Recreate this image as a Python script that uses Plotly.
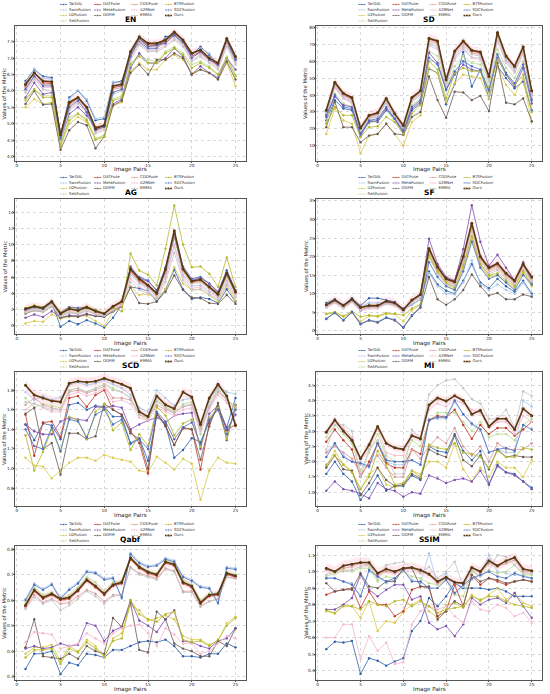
import plotly.graph_objects as go
from plotly.subplots import make_subplots

pairs = list(range(1, 26))
methods = ['TarDAL', 'SwinFusion', 'U2Fusion', 'SeAFusion', 'DATFuse', 'MetaFusion', 'DDFM',
           'CDDFuse', 'A2RNet', 'EMMA', 'BTSFusion', 'SDCFusion', 'Ours']

colors = {
    'TarDAL': '#2f5fa8', 'SwinFusion': '#a9c6e8', 'U2Fusion': '#d8c94a', 'SeAFusion': '#b7dc8f',
    'DATFuse': '#c0392b', 'MetaFusion': '#7c4fb0', 'DDFM': '#6b5a50', 'CDDFuse': '#d99a9a',
    'A2RNet': '#f4b8cf', 'EMMA': '#c4c4c4', 'BTSFusion': '#b5b82a', 'SDCFusion': '#4b6fbd',
    'Ours': '#5a3a12',
}

EN = {
    'TarDAL': [6.30,6.65,6.45,6.40,4.60,5.80,6.00,5.70,5.10,5.15,6.25,6.30,7.10,7.50,7.30,7.30,7.65,7.70,7.45,7.10,7.35,7.10,6.80,7.45,6.95],
    'SwinFusion': [6.25,6.68,6.40,6.35,4.55,5.75,6.02,5.75,5.15,5.20,6.28,6.25,7.05,7.45,7.25,7.25,7.60,7.65,7.40,7.05,7.30,7.15,6.75,7.40,6.90],
    'U2Fusion': [5.50,5.75,5.60,5.65,4.30,5.00,5.20,5.05,4.55,4.60,5.55,5.65,6.60,6.85,6.65,6.65,6.95,7.10,6.95,6.55,6.65,6.55,6.35,6.85,6.15],
    'SeAFusion': [5.70,6.05,5.85,5.85,4.40,5.20,5.30,5.15,4.55,4.65,5.75,5.85,6.85,7.10,6.95,6.90,7.20,7.35,7.15,6.80,6.90,6.75,6.50,7.05,6.50],
    'DATFuse': [6.15,6.55,6.25,6.22,4.70,5.60,5.78,5.45,4.90,4.95,6.10,6.15,7.15,7.60,7.40,7.40,7.50,7.75,7.55,7.05,7.20,6.95,6.80,7.55,7.00],
    'MetaFusion': [5.80,6.25,5.90,5.95,4.50,5.30,5.50,5.25,4.85,4.95,5.60,5.75,6.70,7.15,6.85,6.85,7.00,7.30,7.05,6.50,6.75,6.55,6.40,7.00,6.65],
    'DDFM': [5.60,6.00,5.58,5.60,4.20,4.80,5.05,4.95,4.25,4.60,5.55,5.70,6.55,6.80,6.50,6.95,6.95,7.15,7.00,6.50,6.65,6.55,6.35,6.90,6.35],
    'CDDFuse': [6.10,6.45,6.20,6.20,4.60,5.55,5.75,5.45,4.80,4.90,6.05,6.10,7.10,7.55,7.35,7.35,7.45,7.70,7.45,7.05,7.15,6.95,6.75,7.50,6.95],
    'A2RNet': [6.00,6.40,6.10,6.10,4.55,5.45,5.65,5.40,4.75,4.85,5.95,6.05,7.00,7.45,7.25,7.25,7.40,7.60,7.40,6.95,7.10,6.90,6.70,7.40,6.85],
    'EMMA': [5.95,6.35,6.05,6.00,4.50,5.40,5.60,5.35,4.70,4.80,5.90,6.00,6.95,7.40,7.20,7.20,7.35,7.55,7.35,6.90,7.05,6.85,6.65,7.35,6.80],
    'BTSFusion': [5.75,6.05,5.80,5.80,4.35,5.10,5.30,5.10,4.50,4.60,5.70,5.80,6.80,7.05,6.85,6.85,7.15,7.30,7.10,6.70,6.85,6.70,6.50,7.00,6.45],
    'SDCFusion': [6.05,6.45,6.15,6.15,4.55,5.50,5.70,5.35,4.80,4.90,5.95,6.05,7.05,7.60,7.35,7.40,7.45,7.70,7.50,7.00,7.20,6.95,6.80,7.55,6.95],
    'Ours': [6.20,6.55,6.30,6.28,4.65,5.65,5.80,5.50,4.85,4.95,6.15,6.20,7.20,7.65,7.45,7.45,7.55,7.80,7.55,7.15,7.25,7.00,6.85,7.60,7.05],
}

SD = {
    'TarDAL': [25,37,32,31,15.5,25,24,31,26,17,31,35,55.5,53,34.5,46.5,65.5,45,55,38,57,50,44,48,31],
    'SwinFusion': [28,45,38,36,18,26,28,35,27,20,36,40,70,68,45,62,68,62,62,48,72,60,54,65,38],
    'U2Fusion': [17,32,25,23,5.5,16,17,23,17,10,24,28,56,53,36,47,52,51,50,38,57,46,40,50,24],
    'SeAFusion': [24,41,35,33,17,23,25,32,24,18,34,38,66,63,43,57,63,59,58,45,67,56,50,60,36],
    'DATFuse': [31,47,40,38,20,27.5,29,37.5,28.5,21.5,38,42,73,71.5,48.5,65.5,71.5,66,65,50.5,76.5,62.5,56.5,68,42],
    'MetaFusion': [27,39,34,33,17,24,25,32,26,18,32,36,65,59,43,52,58,55,54,42,62,52,45,56,35],
    'DDFM': [21,36,21,21,12,16,17,23,17,16.5,27,30,51,37,26.5,42,41.5,37,39.5,30.5,59,35.5,34.5,38,24.5],
    'CDDFuse': [30,46,40,37,19.5,27,28.5,37,28,21,37.5,41.5,72,70.5,47.5,64.5,70.5,65,64,50,75.5,62,56,67.5,41],
    'A2RNet': [29,44,38,35,19,26,27,36,27,20,36,40,69,67,46,61,67,62,61,48,72,59,53,64,39],
    'EMMA': [29,45,39,36,19,26.5,28,36,27.5,20.5,37,41,71,69,47,63,69,64,63,49,74,61,55,66,40],
    'BTSFusion': [23,33,28,28,15,21,21.5,27,24,17,29,34,60,55,38,53,56,54,54,42,61,53,46,52,30],
    'SDCFusion': [28,40,33,32,17,25,26,33,26,19,33,37,62,58,43,54,60,57,55,43,64,53,47,58,37],
    'Ours': [31,47.5,41,38.5,20.5,28,29.5,38,29,22,38.5,42.5,73.5,72,49,66,72,66.5,65.5,51,77,63,57,68.5,42.5],
}

AG = {
    'TarDAL': [1.9,2.3,2.0,2.9,-0.1,0.6,0.2,0.7,0.3,-0.2,1.0,2.6,4.8,4.6,4.3,3.0,4.5,6.9,4.5,3.3,3.5,3.3,2.8,4.5,3.0],
    'SwinFusion': [1.8,2.2,2.0,2.7,1.2,1.7,1.5,2.0,1.4,1.2,2.0,2.6,6.3,5.2,4.5,3.7,6.0,10.0,6.3,4.9,5.0,4.2,3.5,5.6,3.8],
    'U2Fusion': [0.3,0.6,0.5,1.4,0.9,1.1,1.3,1.2,0.6,0.0,1.8,2.3,4.9,3.8,3.9,3.3,4.5,7.2,5.2,4.4,4.5,3.8,3.0,4.9,3.1],
    'SeAFusion': [1.7,2.1,1.9,2.6,1.3,1.8,1.6,2.0,1.5,1.3,2.0,2.5,6.5,5.5,4.8,3.9,6.6,10.8,6.7,5.2,5.4,4.6,3.7,6.0,4.0],
    'DATFuse': [2.0,2.4,2.1,2.9,1.5,2.1,1.9,2.3,1.8,1.5,2.3,2.9,6.8,5.6,4.9,3.9,6.8,11.4,6.9,5.4,5.6,4.7,3.8,6.3,4.1],
    'MetaFusion': [1.0,1.4,1.1,1.8,1.0,1.3,1.2,1.5,1.2,1.1,1.8,2.4,7.3,5.8,5.5,4.4,6.5,11.0,7.1,5.6,5.9,5.2,4.2,6.8,4.3],
    'DDFM': [1.5,1.9,1.7,2.4,1.0,1.2,1.1,1.4,1.2,1.1,1.8,2.5,4.7,2.8,2.7,3.0,4.2,6.2,4.4,3.5,3.4,2.8,2.7,3.8,2.7],
    'CDDFuse': [1.9,2.3,2.1,2.8,1.4,2.0,1.8,2.2,1.7,1.4,2.2,2.8,6.6,5.4,4.7,3.8,6.6,11.1,6.8,5.3,5.5,4.6,3.7,6.2,4.0],
    'A2RNet': [1.7,2.0,1.8,2.5,1.2,1.7,1.5,1.9,1.5,1.3,2.0,2.6,5.8,4.8,4.2,3.5,5.8,9.8,6.0,4.6,4.8,4.0,3.3,5.4,3.6],
    'EMMA': [1.6,1.9,1.7,2.4,1.2,1.6,1.4,1.8,1.4,1.2,1.9,2.5,5.4,4.4,4.0,3.3,5.4,9.0,5.6,4.4,4.5,3.8,3.2,5.1,3.5],
    'BTSFusion': [2.2,2.5,2.3,3.0,1.7,2.3,2.1,2.4,2.0,1.6,2.2,1.8,8.9,6.8,6.3,5.0,9.5,14.8,10.0,7.2,7.3,6.4,4.8,8.4,4.8],
    'SDCFusion': [2.0,2.3,2.1,2.9,1.6,2.3,2.2,2.3,1.9,1.5,2.4,3.0,7.1,6.0,5.6,4.3,7.2,11.5,7.3,5.8,6.0,5.2,4.1,6.8,4.4],
    'Ours': [2.1,2.4,2.2,3.0,1.5,2.1,1.9,2.3,1.8,1.5,2.4,3.0,7.0,5.8,5.0,4.0,7.0,11.7,7.0,5.5,5.7,4.8,3.9,6.5,4.2],
}

SF = {
    'TarDAL': [7.5,8.5,7.0,8.8,6.8,8.8,8.8,8.2,7.8,6.0,7.0,8.5,16.0,12.5,10.8,10.0,13.5,18.0,13.0,11.5,14.0,12.0,10.5,13.5,10.0],
    'SwinFusion': [7.2,8.3,6.8,8.5,6.5,7.5,7.5,8.0,7.5,5.8,7.0,8.5,15.5,12.0,10.0,9.8,13.0,19.0,12.5,11.0,12.5,11.0,10.0,13.0,9.5],
    'U2Fusion': [4.5,4.8,3.8,5.0,2.5,4.0,3.8,4.5,4.5,2.5,5.5,7.0,20.0,15.5,12.5,11.0,17.0,24.5,17.5,14.5,15.0,13.0,11.5,15.5,12.0],
    'SeAFusion': [6.8,8.0,6.6,8.2,6.2,6.6,6.6,7.8,7.3,5.6,8.0,9.5,21.0,16.5,13.2,12.5,19.0,27.0,19.0,16.0,17.0,14.7,12.8,17.0,13.8],
    'DATFuse': [6.9,8.2,6.7,8.4,6.2,6.7,6.7,7.9,7.4,5.6,8.2,9.7,21.8,17.0,13.8,13.0,19.6,28.5,19.6,16.7,17.8,15.2,13.2,17.7,14.3],
    'MetaFusion': [6.5,7.8,6.2,8.0,5.5,6.5,6.5,7.5,7.0,5.3,7.8,9.5,24.8,18.0,14.5,13.5,22.0,33.8,24.0,17.5,20.5,17.0,13.5,18.5,13.0],
    'DDFM': [3.2,5.0,2.8,5.0,1.8,2.8,2.2,3.5,2.8,0.8,4.0,6.2,14.5,8.5,7.0,8.5,11.0,15.2,12.0,9.5,10.2,8.5,8.5,9.8,9.2],
    'CDDFuse': [6.8,8.1,6.6,8.3,6.1,6.6,6.6,7.8,7.3,5.5,8.1,9.6,21.5,16.7,13.5,12.8,19.3,28.0,19.3,16.5,17.5,15.0,13.0,17.5,14.0],
    'A2RNet': [6.5,7.8,6.3,8.0,5.8,6.3,6.3,7.5,7.0,5.3,7.8,9.3,20.5,16.0,13.0,12.3,18.5,26.5,18.5,15.8,16.8,14.4,12.6,16.8,13.5],
    'EMMA': [6.3,7.6,6.1,7.8,5.6,6.1,6.1,7.3,6.8,5.1,7.6,9.1,19.8,15.5,12.6,12.0,18.0,25.5,18.0,15.3,16.3,14.0,12.3,16.3,13.2],
    'BTSFusion': [4.6,5.0,4.0,5.2,3.8,4.2,4.0,4.8,4.6,4.2,6.0,7.2,20.5,16.0,13.0,11.5,17.5,25.5,18.0,15.0,15.5,13.5,12.0,16.0,12.5],
    'SDCFusion': [3.3,4.8,2.9,5.1,1.9,2.9,2.4,3.6,3.0,1.0,4.2,6.5,18.5,14.5,12.0,11.0,16.0,24.0,17.0,14.0,15.0,13.0,11.0,15.0,12.5],
    'Ours': [7.0,8.3,6.8,8.5,6.3,6.8,6.8,8.0,7.5,5.7,8.3,9.8,22.2,17.2,14.0,13.2,20.0,29.0,20.0,17.0,18.2,15.5,13.5,18.0,14.5],
}

SCD = {
    'TarDAL': [1.45,1.29,1.46,1.44,1.30,1.65,1.67,1.60,1.64,1.63,1.53,1.53,1.26,1.31,1.08,1.55,1.45,1.11,1.19,1.31,1.27,1.48,1.63,1.42,1.72],
    'SwinFusion': [1.78,1.70,1.74,1.70,1.73,1.85,1.88,1.85,1.87,1.90,1.86,1.82,1.75,1.62,1.58,1.80,1.72,1.64,1.70,1.72,1.40,1.68,1.84,1.78,1.76],
    'U2Fusion': [1.11,1.03,1.02,0.90,0.98,1.06,1.11,1.11,1.08,1.14,1.11,1.09,1.07,0.98,0.96,1.12,1.06,0.99,1.10,1.05,0.68,0.98,1.11,1.06,1.05],
    'SeAFusion': [1.72,1.62,1.66,1.64,1.62,1.80,1.82,1.78,1.82,1.86,1.82,1.78,1.72,1.55,1.50,1.70,1.63,1.58,1.66,1.68,1.35,1.64,1.80,1.70,1.64],
    'DATFuse': [1.55,1.13,1.47,1.48,1.32,1.72,1.74,1.63,1.75,1.80,1.60,1.55,1.38,1.26,0.95,1.57,1.44,1.24,1.41,1.40,0.99,1.46,1.63,1.39,1.45],
    'MetaFusion': [1.45,1.38,1.35,1.35,1.48,1.52,1.50,1.49,1.63,1.62,1.64,1.62,1.40,1.45,1.49,1.52,1.47,1.54,1.56,1.57,1.20,1.56,1.64,1.40,1.55],
    'DDFM': [1.56,1.62,1.20,1.26,0.94,1.36,1.36,1.30,1.33,1.66,1.60,1.55,1.36,1.30,1.00,1.56,1.43,1.24,1.42,1.40,1.09,1.43,1.67,1.29,1.65],
    'CDDFuse': [1.65,1.72,1.65,1.62,1.60,1.78,1.80,1.77,1.80,1.84,1.72,1.72,1.70,1.55,1.52,1.65,1.60,1.57,1.63,1.65,1.42,1.62,1.78,1.70,1.62],
    'A2RNet': [1.60,1.67,1.62,1.58,1.58,1.75,1.78,1.74,1.77,1.82,1.68,1.70,1.66,1.52,1.49,1.62,1.58,1.54,1.60,1.62,1.38,1.60,1.75,1.67,1.60],
    'EMMA': [1.68,1.66,1.63,1.60,1.60,1.80,1.82,1.78,1.82,1.86,1.80,1.78,1.72,1.55,1.52,1.68,1.62,1.56,1.64,1.66,1.40,1.64,1.82,1.70,1.62],
    'BTSFusion': [1.34,0.98,1.17,1.40,1.17,1.53,1.49,1.30,1.58,1.66,1.39,1.47,1.19,1.35,1.23,1.63,1.54,1.34,1.46,1.50,1.22,1.52,1.62,1.30,1.64],
    'SDCFusion': [1.40,1.23,1.20,1.42,1.18,1.50,1.48,1.32,1.55,1.60,1.45,1.50,1.25,1.30,1.20,1.58,1.48,1.30,1.42,1.47,1.25,1.50,1.60,1.35,1.60],
    'Ours': [1.85,1.75,1.72,1.69,1.68,1.87,1.89,1.88,1.89,1.92,1.89,1.86,1.82,1.58,1.53,1.74,1.65,1.61,1.78,1.73,1.45,1.72,1.86,1.74,1.44],
}

MI = {
    'TarDAL': [1.6,2.0,1.6,1.35,0.75,1.1,1.55,1.05,1.2,1.2,1.55,1.4,2.5,2.35,2.3,2.9,2.35,2.05,2.35,1.25,1.9,1.65,1.6,1.35,1.15],
    'SwinFusion': [2.3,2.6,2.2,2.0,1.9,1.8,2.6,2.0,1.9,1.9,2.05,1.9,3.4,3.4,3.4,3.95,3.55,3.2,3.05,2.3,2.4,2.3,2.3,4.0,3.8],
    'U2Fusion': [1.85,2.35,1.9,1.7,1.1,1.6,1.8,1.25,1.15,1.25,1.7,1.6,2.0,2.0,1.8,2.6,1.75,1.35,1.8,1.5,2.0,1.8,1.8,1.5,2.05],
    'SeAFusion': [2.8,3.2,2.9,2.6,1.7,2.3,2.9,2.2,2.0,2.0,2.7,2.5,3.3,3.6,3.6,3.6,3.3,3.0,3.3,2.8,2.9,2.9,2.7,3.2,3.4],
    'DATFuse': [2.65,3.05,2.7,2.4,1.5,2.0,2.6,1.95,1.8,1.8,2.4,2.25,3.35,3.5,3.45,3.7,3.2,2.75,3.2,2.9,3.1,3.1,2.85,3.05,3.3],
    'MetaFusion': [1.05,1.35,1.1,1.05,0.95,0.8,1.3,1.1,1.05,0.85,1.0,0.95,1.55,1.45,1.3,1.4,1.45,1.35,1.7,1.25,1.85,1.65,1.55,1.35,1.1],
    'DDFM': [1.8,2.2,1.75,1.7,0.9,1.3,1.8,1.4,1.2,1.25,1.6,1.45,2.4,2.25,2.15,2.85,2.05,1.85,2.2,1.75,2.4,2.15,2.2,2.15,2.15],
    'CDDFuse': [2.3,2.5,2.3,2.1,1.6,1.9,2.2,1.8,1.5,1.5,2.4,2.1,2.5,2.8,2.6,3.1,2.5,2.2,2.5,2.0,2.6,2.4,2.4,2.4,2.6],
    'A2RNet': [3.0,3.4,3.1,2.8,2.0,2.4,3.1,2.3,2.2,2.2,2.9,2.7,3.7,3.9,3.8,4.0,3.9,3.7,3.6,3.1,3.3,3.3,2.9,3.5,3.3],
    'EMMA': [2.4,3.2,3.2,3.0,1.5,2.4,2.7,2.1,1.6,1.6,3.05,2.75,4.2,4.5,4.65,4.7,4.4,4.05,3.9,3.4,3.4,3.7,3.1,4.3,4.15],
    'BTSFusion': [1.9,2.2,1.9,1.65,1.1,1.5,2.35,1.9,1.25,1.3,1.7,1.5,2.55,2.45,2.4,2.6,2.3,2.25,2.15,1.8,2.35,2.15,2.15,2.45,2.4],
    'SDCFusion': [2.15,2.6,2.15,2.0,1.95,1.85,2.6,2.05,2.0,2.0,2.05,1.9,3.35,3.45,3.45,4.0,3.55,3.25,3.05,2.3,2.4,2.45,2.35,3.2,3.05],
    'Ours': [2.96,3.36,3.0,2.7,2.1,2.55,3.15,2.6,2.45,2.4,2.85,2.75,3.85,4.08,3.98,4.15,4.0,3.55,3.68,3.15,3.4,3.4,3.05,3.73,3.5],
}

QABF = {
    'TarDAL': [0.33,0.39,0.39,0.40,0.31,0.355,0.345,0.39,0.385,0.375,0.405,0.405,0.42,0.435,0.44,0.435,0.445,0.42,0.38,0.38,0.375,0.39,0.39,0.43,0.415],
    'SwinFusion': [0.605,0.665,0.645,0.665,0.61,0.645,0.67,0.715,0.71,0.685,0.69,0.605,0.785,0.75,0.735,0.74,0.765,0.755,0.695,0.68,0.655,0.65,0.585,0.73,0.725],
    'U2Fusion': [0.39,0.415,0.415,0.425,0.36,0.42,0.40,0.445,0.42,0.375,0.45,0.47,0.58,0.56,0.52,0.53,0.54,0.525,0.46,0.445,0.445,0.425,0.44,0.51,0.535],
    'SeAFusion': [0.59,0.65,0.62,0.63,0.60,0.62,0.65,0.69,0.67,0.635,0.67,0.675,0.77,0.735,0.715,0.705,0.755,0.745,0.68,0.66,0.60,0.625,0.63,0.71,0.70],
    'DATFuse': [0.575,0.635,0.605,0.62,0.60,0.605,0.635,0.675,0.65,0.62,0.655,0.665,0.76,0.725,0.705,0.695,0.745,0.735,0.665,0.65,0.585,0.615,0.62,0.70,0.69],
    'MetaFusion': [0.41,0.42,0.41,0.415,0.43,0.42,0.425,0.51,0.50,0.44,0.48,0.495,0.60,0.52,0.50,0.475,0.525,0.56,0.44,0.435,0.42,0.41,0.44,0.45,0.49],
    'DDFM': [0.415,0.525,0.38,0.375,0.37,0.39,0.37,0.42,0.40,0.39,0.53,0.495,0.59,0.405,0.395,0.555,0.525,0.43,0.41,0.40,0.38,0.38,0.44,0.42,0.49],
    'CDDFuse': [0.57,0.62,0.59,0.605,0.585,0.59,0.615,0.64,0.625,0.595,0.62,0.62,0.73,0.705,0.695,0.685,0.725,0.715,0.635,0.635,0.575,0.595,0.605,0.69,0.685],
    'A2RNet': [0.435,0.475,0.47,0.465,0.41,0.42,0.43,0.47,0.45,0.43,0.47,0.49,0.50,0.505,0.47,0.42,0.49,0.465,0.43,0.43,0.39,0.40,0.43,0.46,0.45],
    'EMMA': [0.565,0.61,0.585,0.60,0.56,0.58,0.605,0.635,0.615,0.585,0.615,0.62,0.725,0.70,0.69,0.68,0.72,0.71,0.63,0.63,0.575,0.595,0.605,0.69,0.685],
    'BTSFusion': [0.375,0.405,0.405,0.41,0.35,0.41,0.395,0.435,0.41,0.38,0.44,0.45,0.60,0.545,0.525,0.515,0.545,0.555,0.445,0.435,0.44,0.42,0.445,0.50,0.53],
    'SDCFusion': [0.60,0.66,0.64,0.66,0.605,0.64,0.665,0.71,0.705,0.68,0.685,0.61,0.78,0.745,0.73,0.735,0.76,0.75,0.69,0.675,0.65,0.645,0.59,0.725,0.72],
    'Ours': [0.58,0.64,0.61,0.625,0.605,0.61,0.64,0.68,0.655,0.625,0.66,0.67,0.765,0.73,0.71,0.70,0.75,0.74,0.67,0.655,0.59,0.62,0.625,0.705,0.695],
}

SSIM = {
    'TarDAL': [0.53,0.575,0.57,0.58,0.38,0.475,0.46,0.43,0.455,0.475,0.64,0.70,0.84,0.79,0.85,0.93,0.90,0.90,0.90,0.89,0.90,0.88,0.85,0.85,0.85],
    'SwinFusion': [0.96,0.96,0.94,0.93,0.85,1.00,0.97,0.93,0.95,1.01,0.95,0.93,1.11,0.92,0.99,0.86,0.91,0.95,0.98,1.10,1.00,0.99,0.98,0.98,0.96],
    'U2Fusion': [0.76,0.745,0.80,0.79,0.72,0.82,0.64,0.70,0.69,0.755,0.80,0.83,0.76,0.72,0.80,0.81,0.78,0.86,0.82,0.86,0.90,0.83,0.87,0.81,0.79],
    'SeAFusion': [0.97,0.99,1.01,1.00,1.02,1.02,0.94,0.97,0.96,1.00,0.97,0.96,0.93,0.92,0.95,0.86,0.85,1.00,0.97,1.01,0.99,1.00,1.04,0.98,0.98],
    'DATFuse': [0.86,0.88,0.89,0.90,0.78,0.88,0.80,0.80,0.73,0.76,0.89,0.91,0.90,0.73,0.76,0.92,0.79,0.98,0.92,0.96,0.94,0.92,0.94,0.95,0.94],
    'MetaFusion': [0.77,0.77,0.80,0.84,0.98,0.89,0.85,0.89,0.92,0.92,0.83,0.85,0.69,0.65,0.67,0.61,0.68,0.84,0.80,0.83,0.84,0.81,0.87,0.79,0.72],
    'DDFM': [0.93,0.88,0.89,0.89,0.99,0.91,0.90,0.94,0.94,1.02,1.02,0.91,0.91,0.71,0.76,0.82,0.79,0.98,0.94,0.96,0.95,0.93,0.94,0.95,0.94],
    'CDDFuse': [1.01,1.00,1.02,1.03,1.05,1.04,0.98,1.00,0.99,1.01,1.02,1.00,0.98,0.93,0.96,0.93,0.93,1.02,0.99,1.05,1.03,1.05,1.07,1.00,1.00],
    'A2RNet': [0.60,0.60,0.68,0.68,0.47,0.61,0.52,0.57,0.44,0.45,0.68,0.76,0.79,0.77,0.79,0.73,0.69,0.82,0.77,0.76,0.80,0.78,0.73,0.75,0.69],
    'EMMA': [0.98,1.00,1.00,1.01,1.03,1.04,0.95,1.04,1.05,1.06,1.02,0.99,1.03,0.96,1.00,1.06,0.91,1.01,0.97,1.01,1.10,1.09,1.04,0.99,0.99],
    'BTSFusion': [0.765,0.75,0.79,0.79,0.77,0.82,0.80,0.79,0.82,0.83,0.79,0.82,0.79,0.75,0.77,0.78,0.79,0.85,0.83,0.85,0.85,0.82,0.80,0.79,0.78],
    'SDCFusion': [0.96,0.96,0.94,0.92,0.85,1.01,0.97,0.94,0.96,1.01,0.94,0.94,0.90,0.90,0.95,0.87,0.92,0.96,0.98,1.00,0.97,0.96,0.99,0.97,0.96],
    'Ours': [1.02,1.00,1.035,1.045,1.055,1.055,0.99,1.015,1.00,1.02,1.025,1.01,0.985,0.94,0.965,0.935,0.93,1.025,1.00,1.065,1.035,1.065,1.085,1.015,1.005],
}

# panel: (title, data, y range, dtick, tick format, pink band half width)
panels = [
    ('EN', EN, [3.86, 7.98], 0.5, '.1f', 0.12),
    ('SD', SD, [1.0, 80.8], 10, 'd', 2.5),
    ('AG', AG, [-1.0, 15.6], 2, 'd', 0.5),
    ('SF', SF, [-0.85, 35.5], 5, 'd', 1.2),
    ('SCD', SCD, [0.618, 1.985], 0.2, '.1f', 0.05),
    ('MI', MI, [0.55, 4.93], 0.5, '.1f', 0.12),
    ('Qabf', QABF, [0.287, 0.812], 0.1, '.1f', 0.015),
    ('SSIM', SSIM, [0.343, 1.155], 0.1, '.1f', 0.03),
]

W, H = 550, 694
col_px = [(15, 246), (316, 542)]
row_px = [(26, 161), (199, 334), (372, 506), (546, 680)]
ytitle_px = [4, 305.5]
font = 'DejaVu Sans'

fig = make_subplots(rows=4, cols=2)

# legend grid above each panel: 4 columns filled column by column
leg_cols = [[0, 1, 2, 3], [4, 5, 6], [7, 8, 9], [10, 11, 12]]
leg_dx = [-67, -33, 4, 38]
leg_dy = [-21.5, -16, -10.5, -5]

annotations = []
for k, (title, data, yr, dt, fmt, band) in enumerate(panels):
    r, c = k // 2 + 1, k % 2 + 1
    x0, x1 = col_px[c - 1]
    t0, t1 = row_px[r - 1]

    ours = data['Ours']
    fig.add_trace(go.Scatter(x=pairs, y=[v - band for v in ours], mode='lines',
                             line=dict(width=0), hoverinfo='skip', showlegend=False), row=r, col=c)
    fig.add_trace(go.Scatter(x=pairs, y=[v + band for v in ours], mode='lines',
                             line=dict(width=0), fill='tonexty', fillcolor='rgba(255,150,175,0.22)',
                             hoverinfo='skip', showlegend=False), row=r, col=c)

    for m in methods:
        is_ours = m == 'Ours'
        fig.add_trace(go.Scatter(
            x=pairs, y=data[m], mode='lines+markers', name=m, showlegend=False,
            line=dict(color=colors[m], width=1.6 if is_ours else 0.8),
            marker=dict(color=colors[m], size=3 if is_ours else 2.4),
        ), row=r, col=c)

    fig.update_xaxes(domain=[x0 / W, x1 / W], range=[-0.2, 26.2], tick0=0, dtick=5,
                     row=r, col=c)
    fig.update_yaxes(domain=[1 - t1 / H, 1 - t0 / H], range=yr, dtick=dt, tickformat=fmt,
                     row=r, col=c)

    cx = (x0 + x1) / 2
    annotations.append(dict(text='<b>%s</b>' % title, x=cx / W, y=1 - t0 / H, xref='paper',
                            yref='paper', xanchor='center', yanchor='bottom', showarrow=False,
                            font=dict(size=7.5, color='black', family=font)))
    annotations.append(dict(text='Image Pairs', x=cx / W, y=1 - (t1 + 9) / H, xref='paper',
                            yref='paper', xanchor='center', yanchor='middle', showarrow=False,
                            font=dict(size=5.6, color='#222', family=font)))
    annotations.append(dict(text='Values of the Metric', x=ytitle_px[c - 1] / W,
                            y=1 - (t0 + t1) / 2 / H, xref='paper', yref='paper',
                            xanchor='center', yanchor='middle', textangle=-90, showarrow=False,
                            font=dict(size=5.2, color='#222', family=font)))

    # legend keys
    lx, ly, lt = [], [], []
    for ci, idxs in enumerate(leg_cols):
        for ri, i in enumerate(idxs):
            m = methods[i]
            kx = cx + leg_dx[ci]
            ky = t0 + leg_dy[ri]
            is_ours = m == 'Ours'
            fig.add_trace(go.Scatter(
                x=[kx - 3.5, kx, kx + 3.5], y=[ky, ky, ky], mode='lines+markers',
                xaxis='x9', yaxis='y9', showlegend=False, hoverinfo='skip',
                line=dict(color=colors[m], width=1.6 if is_ours else 0.8),
                marker=dict(color=colors[m], size=[0, 3 if is_ours else 2.4, 0]),
            ))
            lx.append(kx + 5.5)
            ly.append(ky)
            lt.append(m)
    fig.add_trace(go.Scatter(x=lx, y=ly, text=lt, mode='text', textposition='middle right',
                             xaxis='x9', yaxis='y9', showlegend=False, hoverinfo='skip',
                             textfont=dict(size=3.9, color='#333', family=font)))

axis_style = dict(showline=True, mirror=True, linecolor='#555', linewidth=0.7, ticks='outside',
                  ticklen=1.5, tickwidth=0.5, tickcolor='#555', showgrid=True, gridcolor='#d9d9d9',
                  griddash='dot', gridwidth=0.5, zeroline=False, ticklabelstandoff=-2,
                  tickfont=dict(size=4.3, color='#222', family=font))
fig.update_xaxes(**axis_style)
fig.update_yaxes(**axis_style)

fig.update_layout(
    width=W, height=H,
    margin=dict(l=0, r=0, t=0, b=0),
    paper_bgcolor='white', plot_bgcolor='rgba(0,0,0,0)',
    showlegend=False,
    annotations=annotations,
    xaxis9=dict(domain=[0, 1], range=[0, W], visible=False, anchor='y9', fixedrange=True),
    yaxis9=dict(domain=[0, 1], range=[H, 0], visible=False, anchor='x9', fixedrange=True),
    font=dict(family=font),
)

# the page body has a default 8px margin; remove it so the figure fills the window
fig.write_html("out.html", config={'displayModeBar': False},
               post_script="document.body.style.margin='0px';")
